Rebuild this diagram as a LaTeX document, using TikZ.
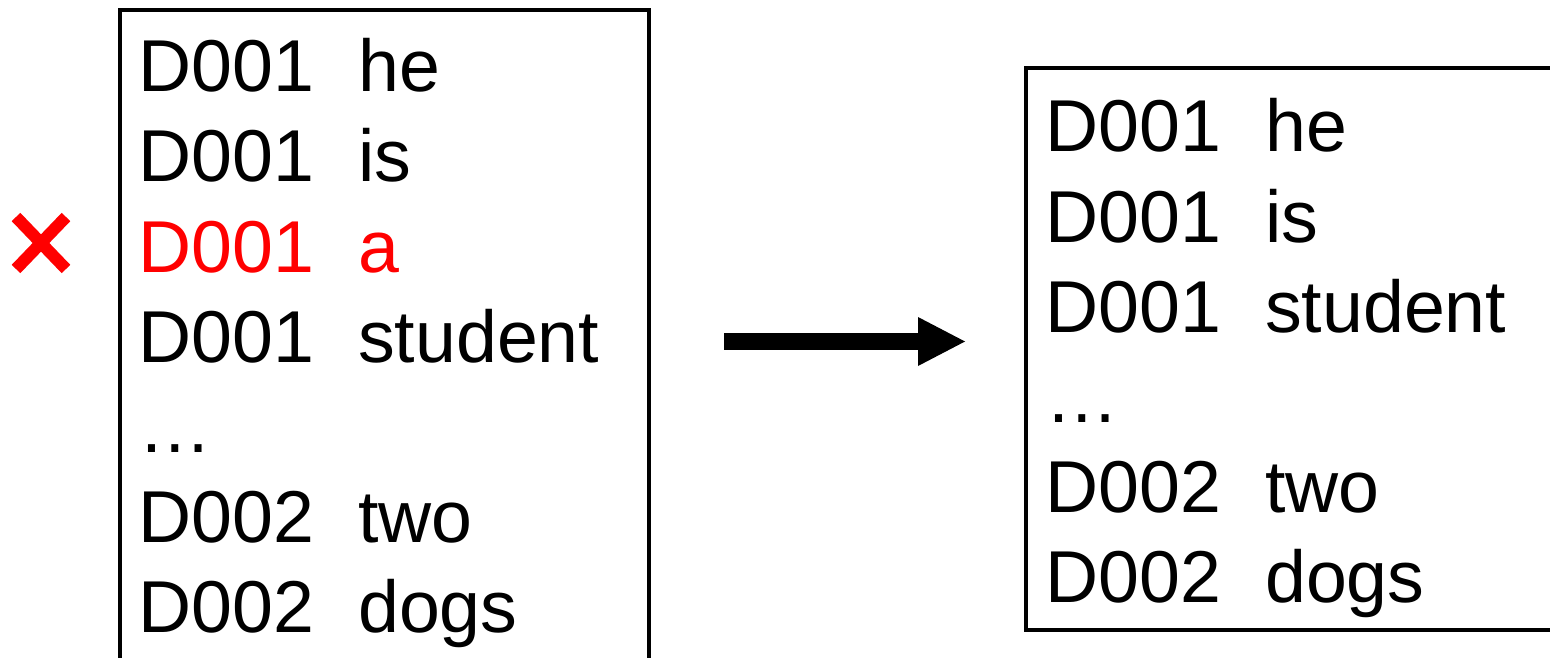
\documentclass[tikz,border=0pt]{standalone}
\usepackage{fontspec}
\setmainfont{Liberation Sans}
\usetikzlibrary{arrows.meta}
\definecolor{xred}{RGB}{255,0,0}
\tikzset{
  txt/.style={anchor=base west, inner sep=0pt, font=\fontsize{73.5}{88}\selectfont},
  box/.style={line width=4pt, draw=black},
  bigarrow/.style={line width=17pt, -{Triangle[length=47pt,width=49pt,line width=0pt]}},
  cross/.style={draw=xred, line width=12pt}
}
\begin{document}
\begin{tikzpicture}[x=1pt,y=-1pt]
\useasboundingbox (0,0) rectangle (1550,658);
\begin{scope}
\clip (0,0) rectangle (1550,658);
\draw[box] (120,10) rectangle (649,700);
\draw[box] (1026,68) rectangle (1600,630);
\end{scope}
% left column
\node[txt] (l1a) at (138,92) {D001};
\node[txt] (l1b) at (358,92) {he};
\node[txt] (l2a) at (138,182) {D001};
\node[txt] (l2b) at (358,182) {is};
\node[txt,text=xred] (l3a) at (138,272) {D001};
\node[txt,text=xred] (l3b) at (358,272) {a};
\node[txt] (l4a) at (138,362) {D001};
\node[txt] (l4b) at (358,362) {student};
\node[txt] (l5) at (138,452) {…};
\node[txt] (l6a) at (138,542) {D002};
\node[txt] (l6b) at (358,542) {two};
\node[txt] (l7a) at (138,632) {D002};
\node[txt] (l7b) at (358,632) {dogs};
% right column
\node[txt] (r1a) at (1045,152) {D001};
\node[txt] (r1b) at (1265,152) {he};
\node[txt] (r2a) at (1045,242) {D001};
\node[txt] (r2b) at (1265,242) {is};
\node[txt] (r3a) at (1045,332) {D001};
\node[txt] (r3b) at (1265,332) {student};
\node[txt] (r4) at (1045,422) {…};
\node[txt] (r5a) at (1045,512) {D002};
\node[txt] (r5b) at (1265,512) {two};
\node[txt] (r6a) at (1045,602) {D002};
\node[txt] (r6b) at (1265,602) {dogs};
% cross
\coordinate (c1) at (16,217);
\coordinate (c2) at (66,269);
\coordinate (c3) at (66,217);
\coordinate (c4) at (16,269);
\draw[cross] (c1) -- (c2);
\draw[cross] (c3) -- (c4);
% arrow
\coordinate (as) at (724,341.5);
\coordinate (ae) at (965,341.5);
\draw[bigarrow] (as) -- (ae);
\end{tikzpicture}
\end{document}
